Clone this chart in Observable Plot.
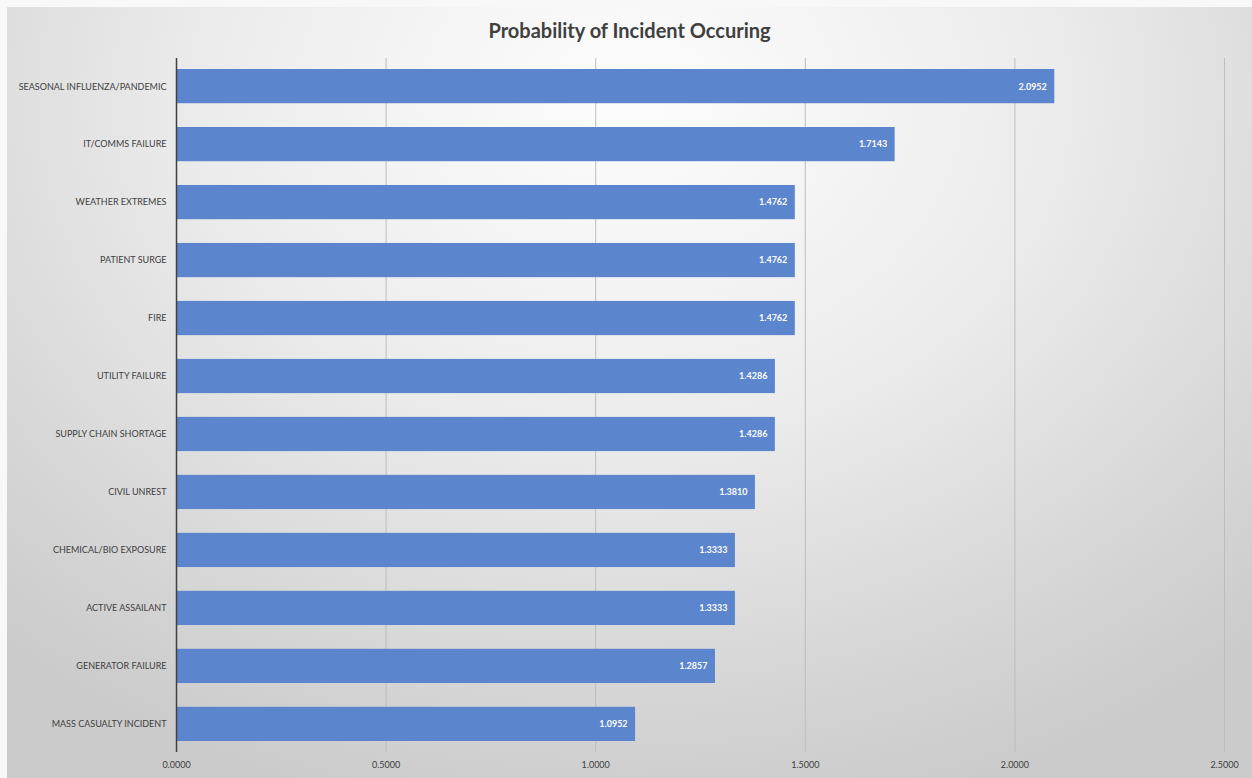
<!DOCTYPE html>
<html>
<head>
<meta charset="utf-8">
<script src="https://cdn.jsdelivr.net/npm/d3@7"></script>
<script src="https://cdn.jsdelivr.net/npm/@observablehq/plot@0.6"></script>
<style>
  html, body { margin: 0; padding: 0; background: #f8f8f8; }
  #wrap {
    position: absolute; left: 7px; top: 7px; width: 1245px; height: 771px;
    background: radial-gradient(ellipse 75% 95% at 50% 12%, #fdfdfd 0%, #ececec 45%, #d6d6d6 80%, #cbcbcb 100%);
    overflow: hidden;
  }
  #title {
    position: absolute; left: 0; top: 11px; width: 1245px; text-align: center;
    font-family: Lato, "Open Sans", sans-serif; font-weight: bold; font-size: 20px; color: #404040;
  }
  #chart { position: absolute; left: -7px; top: -7px; }
</style>
</head>
<body>
<div id="wrap">
  <div id="title">Probability of Incident Occuring</div>
  <div id="chart"></div>
</div>
<script>
const categories = [
  "SEASONAL INFLUENZA/PANDEMIC",
  "IT/COMMS FAILURE",
  "WEATHER EXTREMES",
  "PATIENT SURGE",
  "FIRE",
  "UTILITY FAILURE",
  "SUPPLY CHAIN SHORTAGE",
  "CIVIL UNREST",
  "CHEMICAL/BIO EXPOSURE",
  "ACTIVE ASSAILANT",
  "GENERATOR FAILURE",
  "MASS CASUALTY INCIDENT"
];
const values = [2.0952, 1.7143, 1.4762, 1.4762, 1.4762, 1.4286, 1.4286, 1.3810, 1.3333, 1.3333, 1.2857, 1.0952];
const xTicks = [0, 0.5, 1.0, 1.5, 2.0, 2.5];

const data = categories.map((c, i) => ({category: c, value: values[i]}));
const fmt = d3.format(".4f");

const chart = Plot.plot({
  width: 1252,
  height: 778,
  marginLeft: 176,
  marginRight: 28,
  marginTop: 58,
  marginBottom: 26,
  style: {background: "transparent", fontFamily: "Lato, 'Open Sans', sans-serif", fontSize: "9px", color: "#404040"},
  x: {domain: [0, 2.5], ticks: xTicks, tickFormat: fmt, tickSize: 0, tickPadding: 9, label: null},
  y: {domain: categories, paddingInner: 0.41, paddingOuter: 0.19, round: false, tickSize: 0, tickPadding: 10, label: null},
  marks: [
    Plot.gridX(xTicks.slice(1), {stroke: "#bdbdbd", strokeOpacity: 1, strokeWidth: 1}),
    Plot.barX(data, {x: "value", y: "category", fill: "#5b85cc"}),
    Plot.ruleX([0], {stroke: "#404040", strokeWidth: 1.5}),
    Plot.text(data, {x: "value", y: "category", text: d => fmt(d.value), dx: -8, textAnchor: "end", fill: "white", fontWeight: "bold", fontSize: 9})
  ]
});
document.getElementById("chart").appendChild(chart);
</script>
</body>
</html>
